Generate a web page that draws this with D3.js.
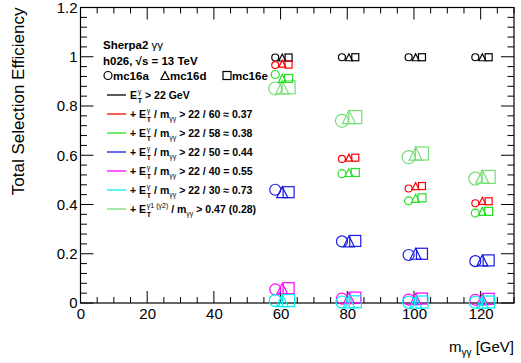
<!DOCTYPE html>
<html>
<head>
<meta charset="utf-8">
<script src="https://d3js.org/d3.v7.min.js"></script>
<style>
  body { margin: 0; background: #fff; }
  svg { font-family: "Liberation Sans", Arial, sans-serif; }
</style>
</head>
<body>
<svg id="chart" width="521" height="363"></svg>
<script>
// chart values
var masses = [60, 80, 100, 120]
var campaigns = ["mc16a", "mc16d", "mc16e"]

var black_a = [0.997, 0.998, 0.998, 0.998]
var black_d = [0.997, 0.998, 0.998, 0.998]
var black_e = [0.997, 0.998, 0.998, 0.998]
var red_a = [0.966, 0.585, 0.465, 0.405]
var red_d = [0.972, 0.59, 0.475, 0.415]
var red_e = [0.968, 0.59, 0.475, 0.413]
var green_a = [0.928, 0.525, 0.415, 0.365]
var green_d = [0.912, 0.53, 0.425, 0.372]
var green_e = [0.912, 0.53, 0.427, 0.372]
var blue_a = [0.46, 0.25, 0.195, 0.17]
var blue_d = [0.45, 0.25, 0.2, 0.173]
var blue_e = [0.45, 0.252, 0.2, 0.173]
var mag_a = [0.055, 0.018, 0.014, 0.013]
var mag_d = [0.058, 0.02, 0.016, 0.015]
var mag_e = [0.06, 0.022, 0.018, 0.017]
var cyan_a = [0.01, 0.004, 0.003, 0.003]
var cyan_d = [0.01, 0.004, 0.003, 0.003]
var cyan_e = [0.01, 0.005, 0.004, 0.004]
var lgreen_a = [0.871, 0.74, 0.592, 0.505]
var lgreen_d = [0.876, 0.755, 0.607, 0.513]
var lgreen_e = [0.876, 0.755, 0.607, 0.512]

var xTicks = [0, 20, 40, 60, 80, 100, 120]
var yTicks = [0, 0.2, 0.4, 0.6, 0.8, 1, 1.2]

var series = [
  { color: "#000000", size: 7, vals: [black_a, black_d, black_e], label: "" },
  { color: "#ff0000", size: 7, vals: [red_a, red_d, red_e], label: "22 / 60 \u2248 0.37" },
  { color: "#22e022", size: 8, vals: [green_a, green_d, green_e], label: "22 / 58 \u2248 0.38" },
  { color: "#1a1ae6", size: 11, vals: [blue_a, blue_d, blue_e], label: "22 / 50 = 0.44" },
  { color: "#ff00ff", size: 11, vals: [mag_a, mag_d, mag_e], label: "22 / 40 = 0.55" },
  { color: "#00f0f0", size: 12, vals: [cyan_a, cyan_d, cyan_e], label: "22 / 30 \u2248 0.73" },
  { color: "#77dd77", size: 13, vals: [lgreen_a, lgreen_d, lgreen_e], label: "0.47 (0.28)" }
]
// draw order: light green first so the others sit on top
var drawOrder = [6, 0, 1, 2, 3, 4, 5]
var offsets = [-1.6, 0.5, 2.4]

var svg = d3.select("#chart")
var mLeft = 80.5, mRight = 514, mTop = 7.5, mBottom = 303

var x = d3.scaleLinear().domain([0, 130]).range([mLeft, mRight])
var y = d3.scaleLinear().domain([0, 1.2]).range([mBottom, mTop])

// frame
svg.append("rect")
  .attr("x", mLeft).attr("y", mTop)
  .attr("width", mRight - mLeft).attr("height", mBottom - mTop)
  .attr("fill", "none").attr("stroke", "#000").attr("stroke-width", 1.2)

// minor + major ticks on all four sides
var xMinor = d3.range(0, 131, 5)
var yMinor = d3.range(0, 31).map(function (i) { return i * 0.04 })
var tickG = svg.append("g").attr("stroke", "#000").attr("stroke-width", 1)
xMinor.forEach(function (v) {
  var len = v % 20 === 0 ? 12 : 6
  tickG.append("line").attr("x1", x(v)).attr("x2", x(v)).attr("y1", mBottom).attr("y2", mBottom - len)
  tickG.append("line").attr("x1", x(v)).attr("x2", x(v)).attr("y1", mTop).attr("y2", mTop + len)
})
yMinor.forEach(function (v, i) {
  var len = i % 5 === 0 ? 13 : 6.5
  tickG.append("line").attr("x1", mLeft).attr("x2", mLeft + len).attr("y1", y(v)).attr("y2", y(v))
  tickG.append("line").attr("x1", mRight).attr("x2", mRight - len).attr("y1", y(v)).attr("y2", y(v))
})

// tick labels via axis generators (no lines)
var xAxis = svg.append("g").attr("transform", "translate(0," + mBottom + ")")
  .call(d3.axisBottom(x).tickValues(xTicks).tickSize(0).tickPadding(5).tickFormat(d3.format("d")))
xAxis.select(".domain").remove()
xAxis.selectAll("text").attr("font-size", 15).attr("font-family", "Liberation Sans, Arial, sans-serif").attr("fill", "#000")

var yAxis = svg.append("g").attr("transform", "translate(" + mLeft + ",0)")
  .call(d3.axisLeft(y).tickValues(yTicks).tickSize(0).tickPadding(3)
    .tickFormat(function (d) { return String(+d.toFixed(1)) }))
yAxis.select(".domain").remove()
yAxis.selectAll("text").attr("font-size", 15).attr("font-family", "Liberation Sans, Arial, sans-serif").attr("fill", "#000")

// axis titles
svg.append("text")
  .attr("transform", "translate(24," + mTop + ") rotate(-90)")
  .attr("text-anchor", "end")
  .attr("font-size", 17)
  .text("Total Selection Efficiency")

var xt = svg.append("text").attr("x", mRight).attr("y", 352).attr("text-anchor", "end").attr("font-size", 15)
xt.append("tspan").text("m")
xt.append("tspan").attr("font-size", 10).attr("dy", 4).text("\u03b3\u03b3")
xt.append("tspan").attr("dy", -4).text(" [GeV]")

// markers
function drawMarker(g, kind, cx, cy, s, color) {
  var r = s / 2
  if (kind === 0) {
    g.append("circle").attr("cx", cx).attr("cy", cy).attr("r", r)
      .attr("fill", "none").attr("stroke", color).attr("stroke-width", 1.2)
  } else if (kind === 1) {
    g.append("path")
      .attr("d", "M" + (cx - r) + "," + (cy + r) + "L" + (cx + r) + "," + (cy + r) + "L" + cx + "," + (cy - r) + "Z")
      .attr("fill", "none").attr("stroke", color).attr("stroke-width", 1.2)
  } else {
    g.append("rect").attr("x", cx - r).attr("y", cy - r).attr("width", s).attr("height", s)
      .attr("fill", "none").attr("stroke", color).attr("stroke-width", 1.2)
  }
}

var markG = svg.append("g")
drawOrder.forEach(function (si) {
  var s = series[si]
  s.vals.forEach(function (arr, ci) {
    arr.forEach(function (v, mi) {
      drawMarker(markG, ci, x(masses[mi] + offsets[ci]), y(v), s.size, s.color)
    })
  })
})

// legend header
var leg = svg.append("g").attr("font-weight", "bold").attr("font-size", 11.5)
var t1 = leg.append("text").attr("x", 103).attr("y", 49)
t1.append("tspan").text("Sherpa2 ")
t1.append("tspan").attr("font-weight", "normal").text("\u03b3\u03b3")
leg.append("text").attr("x", 103).attr("y", 64.5).text("h026, \u221As = 13 TeV")

var campX = [108, 165, 227]
campaigns.forEach(function (c, i) {
  drawMarker(leg, i, campX[i], 75.5, 8, "#000")
  leg.append("text").attr("x", campX[i] + 5).attr("y", 80).text(c)
})

// E_T with stacked superscript / subscript
function addET(t, sup) {
  var s = t.append("tspan").attr("font-size", 7).attr("dx", 0.8).attr("dy", -5).attr("font-weight", "normal").text(sup)
  var sw = s.node().getComputedTextLength()
  var sub = t.append("tspan").attr("font-size", 7).attr("dx", -sw).attr("dy", 8.5).text("T")
  var tw = sub.node().getComputedTextLength()
  return Math.max(0, sw - tw)
}

var rowY = [95, 114, 133, 152, 171, 190, 209]
series.forEach(function (s, i) {
  var yy = rowY[i]
  leg.append("line").attr("x1", 107).attr("x2", 126).attr("y1", yy).attr("y2", yy)
    .attr("stroke", s.color).attr("stroke-width", 1.3)
  var t = leg.append("text").attr("x", 130).attr("y", yy + 4).attr("font-size", 10.5)
  if (i === 0) {
    t.append("tspan").text("E")
    var back = addET(t, "\u03b3")
    t.append("tspan").attr("dx", back).attr("dy", -3.5).text(" > 22 GeV")
  } else {
    t.append("tspan").text("+ E")
    var back2 = addET(t, i < 6 ? "\u03b3" : "\u03b31 (\u03b32)")
    t.append("tspan").attr("dx", back2).attr("dy", -3.5).text(" / m")
    t.append("tspan").attr("font-size", 7).attr("dy", 3).attr("font-weight", "normal").text("\u03b3\u03b3")
    t.append("tspan").attr("dy", -3).text(" > " + s.label)
  }
})
</script>
</body>
</html>
